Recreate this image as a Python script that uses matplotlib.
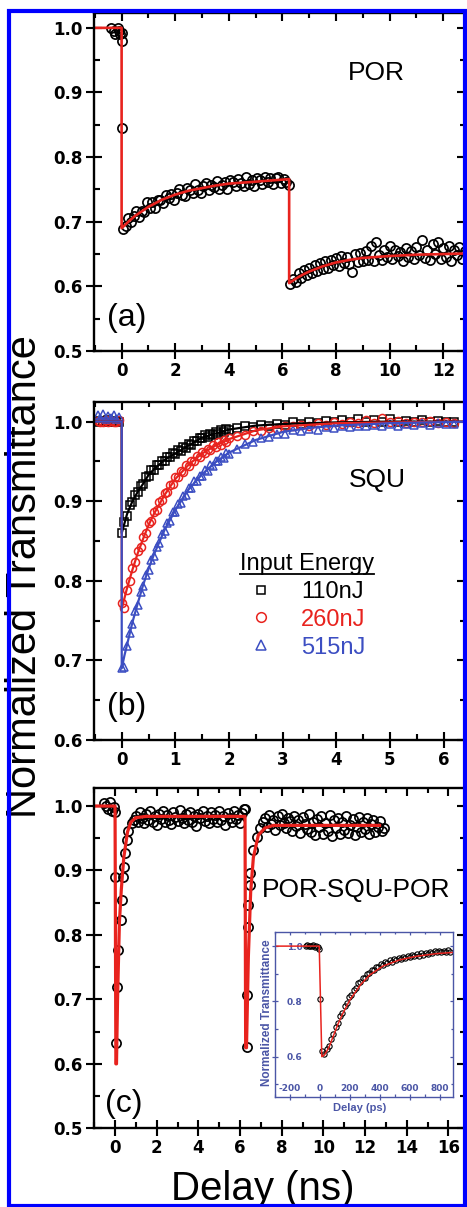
import numpy as np
import matplotlib
matplotlib.use('Agg')
import matplotlib.pyplot as plt
from matplotlib.ticker import MultipleLocator
from matplotlib.patches import Rectangle
from matplotlib.lines import Line2D

plt.rcParams['font.family'] = ['Liberation Sans', 'DejaVu Sans']

RED = '#e8231e'
BLUE = '#3c4ec2'
INSET = '#4b56a6'

# ---------------- (a) POR ----------------
por_pre_t = [-0.40, -0.30, -0.25, -0.15, -0.10, -0.05, 0.0, 0.02, 0.02]
por_pre_y = [1.000, 0.995, 0.990, 1.000, 0.995, 0.990, 0.980, 0.992, 0.845]
por_y1 = [0.689, 0.693, 0.706, 0.699, 0.709, 0.717, 0.707, 0.717, 0.715, 0.730,
          0.722, 0.731, 0.722, 0.734, 0.733, 0.729, 0.742, 0.737, 0.743, 0.733,
          0.744, 0.751, 0.742, 0.740, 0.752, 0.749, 0.745, 0.758, 0.749, 0.745,
          0.756, 0.760, 0.749, 0.757, 0.753, 0.763, 0.751, 0.757, 0.762, 0.750,
          0.764, 0.761, 0.756, 0.766, 0.760, 0.755, 0.769, 0.759, 0.765, 0.755,
          0.767, 0.764, 0.758, 0.770, 0.761, 0.767, 0.758, 0.767, 0.770, 0.760,
          0.766, 0.761, 0.757]
por_t1 = np.linspace(0.05, 6.25, len(por_y1))
por_y2 = [0.603, 0.612, 0.606, 0.620, 0.613, 0.625, 0.617, 0.629, 0.621, 0.633,
          0.624, 0.636, 0.627, 0.640, 0.629, 0.641, 0.633, 0.644, 0.632, 0.647,
          0.636, 0.645, 0.634, 0.623, 0.650, 0.638, 0.652, 0.639, 0.655, 0.641,
          0.663, 0.640, 0.668, 0.649, 0.641, 0.657, 0.645, 0.662, 0.642, 0.656,
          0.647, 0.653, 0.640, 0.660, 0.645, 0.655, 0.643, 0.661, 0.648, 0.672,
          0.644, 0.657, 0.641, 0.666, 0.650, 0.669, 0.643, 0.659, 0.645, 0.662,
          0.640, 0.656, 0.648, 0.661, 0.643, 0.655]
por_t2 = np.linspace(6.3, 12.8, len(por_y2))
por_fit_t = [-1.1, 0, 0, 0.25, 0.5, 0.75, 1, 1.5, 2, 2.5, 3, 3.5, 4, 5, 6.25,
             6.25, 6.5, 6.75, 7, 7.5, 8, 8.5, 9, 10, 11, 12, 12.9]
por_fit_y = [1.0, 1.0, 0.690, 0.700, 0.709, 0.716, 0.723, 0.734, 0.742, 0.748,
             0.752, 0.756, 0.759, 0.762, 0.766, 0.605, 0.612, 0.618, 0.623,
             0.631, 0.637, 0.641, 0.644, 0.647, 0.649, 0.650, 0.651]

# ---------------- (b) SQU ----------------
squ_t = np.concatenate([np.linspace(-0.45, -0.05, 9),
                        np.linspace(0.0, 2.0, 41),
                        np.linspace(2.15, 6.2, 28)])
squ_110 = [1.000, 1.001, 0.999, 1.000, 1.002, 1.000, 0.999, 1.001, 1.000,
           0.860, 0.874, 0.882, 0.895, 0.899, 0.908, 0.911, 0.919, 0.921, 0.930,
           0.932, 0.939, 0.939, 0.945, 0.945, 0.951, 0.951, 0.956, 0.955, 0.960,
           0.959, 0.964, 0.963, 0.968, 0.967, 0.972, 0.971, 0.976, 0.975, 0.980,
           0.979, 0.983, 0.981, 0.985, 0.983, 0.987, 0.985, 0.989, 0.987, 0.991,
           0.989,
           0.992, 0.994, 0.993, 0.996, 0.995, 0.997, 0.996, 0.999, 0.997, 1.000,
           0.998, 1.001, 0.999, 1.002, 1.000, 1.003, 0.999, 1.002, 1.000, 1.003,
           0.999, 1.001, 1.000, 1.002, 0.999, 1.001, 1.000, 1.000]
squ_260 = [1.001, 0.999, 1.000, 1.002, 0.999, 1.001, 1.000, 1.000, 1.002,
           0.772, 0.766, 0.788, 0.800, 0.816, 0.823, 0.837, 0.842, 0.855, 0.860,
           0.872, 0.875, 0.886, 0.889, 0.899, 0.901, 0.910, 0.912, 0.920, 0.921,
           0.930, 0.930, 0.938, 0.937, 0.945, 0.944, 0.951, 0.950, 0.957, 0.955,
           0.962, 0.960, 0.966, 0.964, 0.970, 0.968, 0.974, 0.971, 0.977, 0.974,
           0.980,
           0.982, 0.983, 0.988, 0.988, 0.992, 0.991, 0.995, 0.994, 0.996, 0.995,
           0.998, 0.996, 0.999, 0.997, 1.000, 0.998, 1.002, 0.998, 1.004, 0.999,
           1.001, 0.998, 1.000, 0.999, 1.001, 0.998, 1.000, 0.998]
squ_515 = [1.008, 1.004, 1.009, 1.003, 1.007, 1.004, 1.008, 1.003, 1.006,
           0.690, 0.692, 0.718, 0.735, 0.746, 0.762, 0.770, 0.786, 0.793, 0.807,
           0.813, 0.826, 0.831, 0.843, 0.847, 0.859, 0.862, 0.873, 0.875, 0.886,
           0.887, 0.897, 0.898, 0.907, 0.908, 0.917, 0.917, 0.925, 0.925, 0.932,
           0.932, 0.939, 0.938, 0.945, 0.944, 0.951, 0.950, 0.956, 0.954, 0.960,
           0.959,
           0.965, 0.972, 0.974, 0.980, 0.981, 0.985, 0.985, 0.989, 0.988, 0.991,
           0.990, 0.993, 0.992, 0.994, 0.993, 0.995, 0.994, 0.996, 0.995, 0.997,
           0.995, 0.997, 0.996, 0.998, 0.996, 0.998, 0.997, 0.997]
squ_fit_t = [-0.6, 0, 0, 0.05, 0.1, 0.2, 0.3, 0.4, 0.5, 0.6, 0.8, 1.0, 1.25,
             1.5, 1.75, 2.0, 2.5, 3.0, 3.5, 4.0, 5.0, 6.5]
squ_fit_110 = [1.0, 1.0, 0.860, 0.872, 0.884, 0.900, 0.912, 0.922, 0.933, 0.940,
               0.952, 0.960, 0.970, 0.980, 0.985, 0.990, 0.995, 0.997, 0.998,
               0.999, 1.0, 1.0]
squ_fit_260 = [1.0, 1.0, 0.765, 0.778, 0.791, 0.814, 0.835, 0.853, 0.870, 0.884,
               0.908, 0.928, 0.946, 0.960, 0.970, 0.978, 0.989, 0.994, 0.996,
               0.998, 0.999, 1.0]
squ_fit_515 = [1.0, 1.0, 0.690, 0.706, 0.720, 0.748, 0.772, 0.795, 0.815, 0.833,
               0.864, 0.889, 0.915, 0.934, 0.949, 0.961, 0.977, 0.987, 0.992,
               0.995, 0.998, 1.0]
energy_labels = ['110nJ', '260nJ', '515nJ']

# ---------------- (c) POR-SQU-POR ----------------
psp_pre_t = [-0.55, -0.45, -0.35, -0.25, -0.15, -0.05, 0.0]
psp_pre_y = [1.004, 1.000, 0.996, 1.006, 0.993, 0.998, 0.990]
psp_dip1_t = [-0.02, 0.04, 0.08, 0.16, 0.27, 0.32, 0.40, 0.42, 0.48, 0.56, 0.64, 0.80]
psp_dip1_y = [0.890, 0.633, 0.720, 0.777, 0.823, 0.854, 0.890, 0.905, 0.927, 0.947, 0.962, 0.973]
psp_y1 = [0.978, 0.985, 0.975, 0.990, 0.981, 0.973, 0.987, 0.979, 0.992, 0.976,
          0.984, 0.970, 0.988, 0.980, 0.993, 0.975, 0.986, 0.979, 0.972, 0.990,
          0.983, 0.977, 0.994, 0.981, 0.974, 0.988, 0.979, 0.991, 0.976, 0.985,
          0.969, 0.987, 0.982, 0.993, 0.977, 0.984, 0.973, 0.990, 0.980, 0.986,
          0.975, 0.992, 0.978, 0.985, 0.971, 0.989, 0.982, 0.976, 0.993, 0.980,
          0.986, 0.974, 0.989, 0.996]
psp_t1 = np.linspace(0.9, 6.2, len(psp_y1))
psp_dip2_t = [6.22, 6.32, 6.32, 6.40, 6.40, 6.48, 6.48, 6.64, 6.80, 6.96]
psp_dip2_y = [0.996, 0.626, 0.707, 0.812, 0.846, 0.877, 0.896, 0.932, 0.952, 0.966]
psp_y2 = [0.975, 0.982, 0.968, 0.986, 0.972, 0.979, 0.963, 0.984, 0.970, 0.988,
          0.974, 0.966, 0.981, 0.977, 0.961, 0.985, 0.969, 0.978, 0.958, 0.983,
          0.972, 0.964, 0.987, 0.960, 0.976, 0.955, 0.980, 0.968, 0.984, 0.957,
          0.973, 0.962, 0.986, 0.954, 0.978, 0.966, 0.982, 0.956, 0.975, 0.963,
          0.985, 0.958, 0.971, 0.980, 0.955, 0.968, 0.983, 0.960, 0.976, 0.964,
          0.981, 0.956, 0.972, 0.979, 0.959, 0.967, 0.977, 0.961, 0.966]
psp_t2 = np.linspace(7.1, 12.9, len(psp_y2))
psp_fit_t = [-1.1, 0.0, 0.04, 0.07, 0.12, 0.21, 0.30, 0.42, 0.60, 0.76, 1.0, 1.5,
             6.24, 6.27, 6.31, 6.40, 6.51, 6.64, 6.88, 7.2, 7.6, 12.7]
psp_fit_y = [1.0, 1.0, 0.600, 0.600, 0.700, 0.820, 0.870, 0.920, 0.960, 0.975,
             0.982, 0.984, 0.984, 0.625, 0.625, 0.766, 0.866, 0.920, 0.955,
             0.966, 0.970, 0.970]

# inset (delay in ps)
ins_pre_t = [-95, -85, -75, -65, -55, -45, -35, -25, -15, -5, 0]
ins_pre_y = [1.000, 1.003, 0.999, 1.002, 1.000, 1.004, 0.998, 1.001, 0.997, 0.990, 0.810]
ins_y = [0.620, 0.611, 0.627, 0.638, 0.665, 0.681, 0.709, 0.723, 0.747, 0.759,
         0.782, 0.793, 0.815, 0.823, 0.842, 0.848, 0.865, 0.870, 0.884, 0.886,
         0.900, 0.902, 0.914, 0.913, 0.925, 0.924, 0.935, 0.933, 0.942, 0.939,
         0.948, 0.944, 0.953, 0.949, 0.958, 0.954, 0.961, 0.957, 0.965, 0.960,
         0.968, 0.963, 0.971, 0.966, 0.974, 0.969, 0.976, 0.972, 0.979, 0.974,
         0.982, 0.977, 0.983, 0.978, 0.984, 0.978, 0.985, 0.979]
ins_t = np.linspace(15, 870, len(ins_y))
ins_fit_t = [-300, -5, 12, 30, 60, 90, 120, 150, 200, 270, 330, 420, 530, 640, 780, 885]
ins_fit_y = [1.0, 1.0, 0.600, 0.606, 0.634, 0.676, 0.718, 0.754, 0.806, 0.860,
             0.895, 0.928, 0.950, 0.963, 0.973, 0.977]

# ticks
a_xticks = [0, 2, 4, 6, 8, 10, 12]
b_xticks = [0, 1, 2, 3, 4, 5, 6]
c_xticks = [0, 2, 4, 6, 8, 10, 12, 14, 16]
ab_yticks = [0.5, 0.6, 0.7, 0.8, 0.9, 1.0]
b_yticks = [0.6, 0.7, 0.8, 0.9, 1.0]
ins_xticks = [-200, 0, 200, 400, 600, 800]
ins_yticks = [0.6, 0.8, 1.0]

W, H = 467.0, 1207.0
fig = plt.figure(figsize=(W / 100, H / 100), dpi=100)


def px_axes(left, top, right, bottom):
    return fig.add_axes([left / W, 1 - bottom / H, (right - left) / W, (bottom - top) / H])


def setup(ax, xt, xm, yt, ym, xlim, ylim, size=12, maj=11, mnr=4, lw=1.7, col='k', inner=6):
    ax.set_xlim(xlim)
    ax.set_ylim(ylim)
    ax.set_xticks(xt, labels=[str(v) for v in xt], fontsize=size,
                  fontweight='bold', fontfamily='DejaVu Sans', color=col)
    ax.set_yticks(yt, labels=['%.1f' % v for v in yt], fontsize=size,
                  fontweight='bold', fontfamily='DejaVu Sans', color=col)
    ax.xaxis.set_minor_locator(MultipleLocator(xm))
    ax.yaxis.set_minor_locator(MultipleLocator(ym))
    ax.tick_params(which='major', direction='inout', length=maj, width=lw * 0.9, color=col, pad=2.5)
    ax.tick_params(which='minor', direction='in', length=mnr, width=lw * 0.9, color=col)
    for sp in ax.spines.values():
        sp.set_linewidth(lw)
        sp.set_color(col)
    top = ax.secondary_xaxis('top')
    top.set_xticks(xt)
    top.xaxis.set_minor_locator(MultipleLocator(xm))
    top.tick_params(which='both', direction='in', labeltop=False, width=lw * 0.9, color=col)
    top.tick_params(which='major', length=inner)
    top.tick_params(which='minor', length=inner * 0.6)
    top.spines['top'].set_visible(False)
    right = ax.secondary_yaxis('right')
    right.set_yticks(yt)
    right.yaxis.set_minor_locator(MultipleLocator(ym))
    right.tick_params(which='both', direction='in', labelright=False, width=lw * 0.9, color=col)
    right.tick_params(which='major', length=inner)
    right.tick_params(which='minor', length=inner * 0.6)
    right.spines['right'].set_visible(False)


mk = dict(ls='none', mfc='none')

# (a)
ax_a = px_axes(94, 13, 465, 351)
setup(ax_a, a_xticks, 1, ab_yticks, 0.05, (-1.03, 12.81), (0.5, 1.023))
for t, y in [(por_pre_t, por_pre_y), (por_t1, por_y1), (por_t2, por_y2)]:
    ax_a.plot(t, y, marker='o', mec='k', ms=6.6, mew=1.25, **mk)
ax_a.plot(por_fit_t, por_fit_y, color=RED, lw=1.9)
ax_a.text(9.5, 0.92, 'POR', fontsize=19, ha='center', va='baseline')
ax_a.text(0.2, 0.539, '(a)', fontsize=23, ha='center', va='baseline')

# (b)
ax_b = px_axes(94, 401.7, 465, 740)
setup(ax_b, b_xticks, 0.5, b_yticks, 0.05, (-0.517, 6.4), (0.6, 1.025))
h1, = ax_b.plot(squ_t, squ_110, marker='s', mec='k', ms=5.3, mew=1.1, label=energy_labels[0], **mk)
h2, = ax_b.plot(squ_t, squ_260, marker='o', mec=RED, ms=5.8, mew=1.1, label=energy_labels[1], **mk)
h3, = ax_b.plot(squ_t, squ_515, marker='^', mec=BLUE, ms=6.0, mew=1.1, label=energy_labels[2], **mk)
ax_b.plot(squ_fit_t, squ_fit_110, color='k', lw=1.6)
ax_b.plot(squ_fit_t, squ_fit_260, color=RED, lw=1.6)
ax_b.plot(squ_fit_t, squ_fit_515, color=BLUE, lw=1.6)
ax_b.text(4.76, 0.918, 'SQU', fontsize=19, ha='center', va='baseline')
ax_b.text(0.1, 0.631, '(b)', fontsize=23, ha='center', va='baseline')
leg = ax_b.legend(handles=[h1, h2, h3], title='Input Energy', frameon=False,
                  labelcolor='markeredgecolor', fontsize=17, title_fontsize=17,
                  loc='upper left', bbox_to_anchor=(0.3935, 0.553), borderpad=0,
                  borderaxespad=0, handlelength=1.0, handletextpad=1.2,
                  labelspacing=0.25, markerscale=1.2)

# (c)
ax_c = px_axes(94, 788, 465, 1128.3)
setup(ax_c, c_xticks, 1, ab_yticks, 0.05, (-1.01, 16.8), (0.5, 1.028))
for t, y in [(psp_pre_t, psp_pre_y), (psp_dip1_t, psp_dip1_y), (psp_t1, psp_y1),
             (psp_dip2_t, psp_dip2_y), (psp_t2, psp_y2)]:
    ax_c.plot(t, y, marker='o', mec='k', ms=6.6, mew=1.25, **mk)
ax_c.plot(psp_fit_t, psp_fit_y, color=RED, lw=2.3)
ax_c.text(7.06, 0.859, 'POR-SQU-POR', fontsize=19, ha='left', va='baseline')
ax_c.text(0.4, 0.526, '(c)', fontsize=23, ha='center', va='baseline')

# inset
ax_in = px_axes(275, 932.3, 452.7, 1097.3)
setup(ax_in, ins_xticks, 100, ins_yticks, 0.1, (-300, 885), (0.453, 1.05),
      size=6.5, maj=4, mnr=2, lw=1.0, col=INSET, inner=2.5)
ax_in.tick_params(axis='y', which='major', pad=-22)
ax_in.tick_params(axis='x', which='major', pad=-11.5)
ax_in.plot(ins_pre_t, ins_pre_y, marker='o', mec='k', ms=3.8, mew=0.8, **mk)
ax_in.plot(ins_t, ins_y, marker='o', mec='k', ms=3.8, mew=0.8, **mk)
ax_in.plot(ins_fit_t, ins_fit_y, color=RED, lw=1.1)
fig.text(360 / W, 1 - 1108 / H, 'Delay (ps)', fontsize=8, fontweight='bold',
         color=INSET, ha='center', va='center')
fig.text(267 / W, 1 - 1013 / H, 'Normalized Transmittance', fontsize=8.5,
         fontweight='bold', color=INSET, rotation=90, ha='center', va='center')

# shared labels
fig.text(36 / W, 1 - 577 / H, 'Normalized Transmittance', fontsize=30,
         rotation=90, rotation_mode='anchor', ha='center', va='baseline')
fig.text(263 / W, 1 - 1200 / H, 'Delay (ns)', fontsize=29, ha='center', va='baseline')

# underline of legend title
fig.canvas.draw()
tb = leg.get_title().get_window_extent(fig.canvas.get_renderer())
(x0, y0), (x1, _) = fig.transFigure.inverted().transform([[tb.x0, tb.y0 + 1], [tb.x1, tb.y0]])
fig.add_artist(Line2D([x0, x1], [y0, y0], transform=fig.transFigure, color='k', lw=1.3))

# blue frame
fig.add_artist(Rectangle((9 / W, 1 - 1206 / H), 456 / W, 1195 / H, transform=fig.transFigure,
                         fill=False, ec='#0000ff', lw=3, zorder=20))

fig.savefig('out.png', dpi=100)
